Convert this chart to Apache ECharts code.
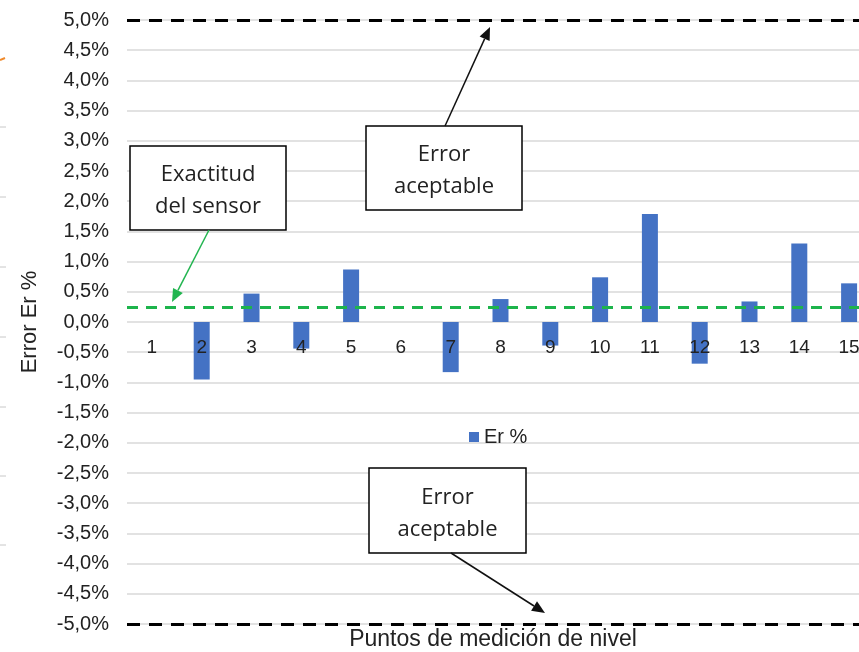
<!DOCTYPE html>
<html lang="es">
<head>
<meta charset="UTF-8">
<title>Error Er %</title>
<script src="https://cdn.jsdelivr.net/npm/echarts@6/dist/echarts.min.js"></script>
<style>
html, body { margin: 0; padding: 0; background: #fff; }
#chart { width: 859px; height: 652px; }
</style>
</head>
<body>
<div id="chart"></div>
<script>
// datos (en %)
var puntos = ['1', '2', '3', '4', '5', '6', '7', '8', '9', '10', '11', '12', '13', '14', '15'];
var errorPct = [0, -0.95, 0.47, -0.44, 0.87, 0, -0.83, 0.38, -0.39, 0.74, 1.79, -0.69, 0.34, 1.30, 0.64];
var exactitudSensor = 0.25;
var errorAceptable = [5, -5];
var ejeY = { min: -5, max: 5, paso: 0.5 };

var W = 859, H = 652;
var margen = { left: 127, right: -15, top: 20, bottom: 28 };
// el eje de categorias va en el 0 del eje Y
var altoGrid = H - margen.top - margen.bottom;
var offsetCero = -altoGrid * (0 - ejeY.min) / (ejeY.max - ejeY.min);

var chart = echarts.init(document.getElementById('chart'));

function fmtPct(v) {
  return v.toFixed(1).replace('.', ',') + '%';
}

// flecha: linea + punta triangular
function flecha(x1, y1, x2, y2, color) {
  var ang = Math.atan2(y2 - y1, x2 - x1);
  var L = 13, A = 5.5;
  var bx = x2 - L * Math.cos(ang), by = y2 - L * Math.sin(ang);
  var px = -Math.sin(ang) * A, py = Math.cos(ang) * A;
  return [
    { type: 'line', z: 100, shape: { x1: x1, y1: y1, x2: bx, y2: by }, style: { stroke: color, lineWidth: 1.5 } },
    { type: 'polygon', z: 100, shape: { points: [[x2, y2], [bx + px, by + py], [bx - px, by - py]] }, style: { fill: color } }
  ];
}

function caja(x, y, w, h, lineas) {
  return [
    { type: 'rect', z: 100, shape: { x: x, y: y, width: w, height: h }, style: { fill: '#fff', stroke: '#000', lineWidth: 1.5 } },
    { type: 'text', z: 101, x: x + w / 2, y: y + h / 2 + 3, style: {
        text: lineas.join('\n'), align: 'center', verticalAlign: 'middle',
        font: '22px "Open Sans"', lineHeight: 32, fill: '#222' } }
  ];
}

var lineaDash = function (color, dash) {
  return { color: color, width: 3, type: dash };
};

var graficos = []
  .concat(caja(130, 146, 156, 84, ['Exactitud', 'del sensor']))
  .concat(caja(366, 126, 156, 84, ['Error', 'aceptable']))
  .concat(caja(369, 468, 157, 85, ['Error', 'aceptable']))
  .concat(flecha(209, 230, 172, 302, '#22b550'))
  .concat(flecha(445, 126, 490, 27, '#111'))
  .concat(flecha(451, 553, 545, 613, '#111'));

graficos.push({
  type: 'text', x: 493, y: 640, style: {
    text: 'Puntos de medición de nivel', align: 'center', verticalAlign: 'middle',
    font: '23px "Liberation Sans"', fill: '#222'
  }
});

// restos del recorte a la izquierda
[127, 197, 267, 337, 407, 476, 545].forEach(function (yy) {
  graficos.push({ type: 'line', shape: { x1: 0, y1: yy, x2: 6, y2: yy }, style: { stroke: '#c8c8c8', lineWidth: 1 } });
});
graficos.push({ type: 'line', shape: { x1: 0, y1: 60, x2: 5, y2: 58 }, style: { stroke: '#f08a2c', lineWidth: 2 } });

var option = {
  backgroundColor: '#fff',
  animation: false,
  grid: { left: margen.left, right: margen.right, top: margen.top, bottom: margen.bottom, outerBoundsMode: 'none' },
  legend: {
    data: ['Er %'], left: 464, top: 422, icon: 'rect', itemWidth: 10, itemHeight: 10, itemGap: 4,
    textStyle: { fontFamily: 'Liberation Sans', fontSize: 20, color: '#222' }
  },
  xAxis: {
    type: 'category', data: puntos, position: 'bottom', offset: offsetCero, z: 10,
    axisLine: { show: false, onZero: false },
    axisTick: { show: false },
    axisLabel: { margin: 16, fontFamily: 'Liberation Sans', fontSize: 19, color: '#222' }
  },
  yAxis: {
    type: 'value', min: ejeY.min, max: ejeY.max, interval: ejeY.paso,
    name: 'Error Er %', nameLocation: 'middle', nameGap: 86,
    nameTextStyle: { fontFamily: 'Liberation Sans', fontSize: 22, color: '#222' },
    axisLine: { show: false }, axisTick: { show: false },
    axisLabel: { margin: 18, formatter: fmtPct, fontFamily: 'Liberation Sans', fontSize: 20, color: '#222' },
    splitLine: { lineStyle: { color: '#d9d9d9', width: 1.5 } }
  },
  series: [{
    name: 'Er %', type: 'bar', data: errorPct, barWidth: 16,
    itemStyle: { color: '#4472c4' },
    markLine: {
      silent: true, symbol: ['none', 'none'], label: { show: false },
      data: [
        { yAxis: errorAceptable[0], lineStyle: lineaDash('#000', [13, 9]) },
        { yAxis: errorAceptable[1], lineStyle: lineaDash('#000', [13, 9]) },
        { yAxis: exactitudSensor, lineStyle: lineaDash('#1db44c', [11, 8]) }
      ]
    }
  }],
  graphic: graficos
};

chart.setOption(option);
</script>
</body>
</html>
